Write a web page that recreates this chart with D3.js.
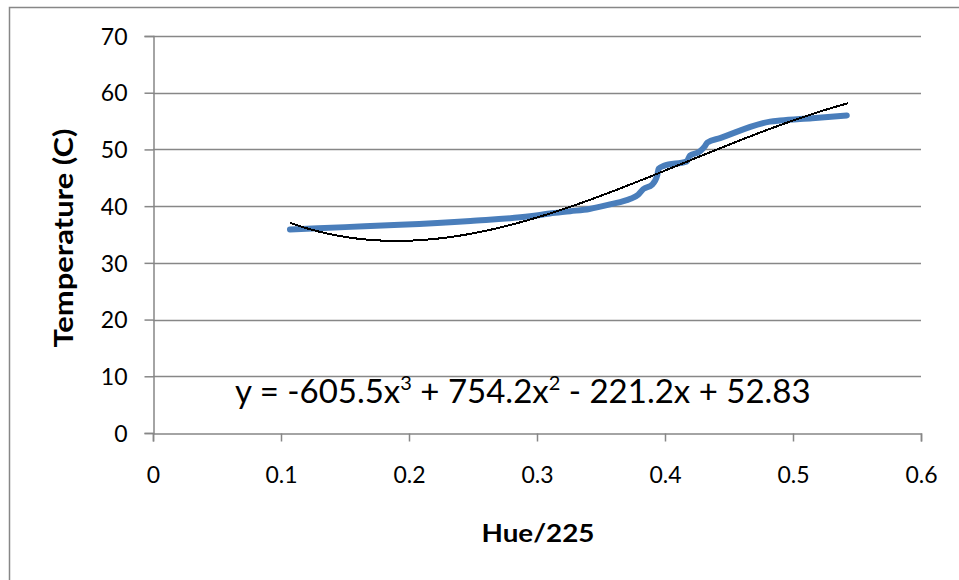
<!DOCTYPE html>
<html>
<head>
<meta charset="utf-8">
<script src="https://cdn.jsdelivr.net/npm/d3@7"></script>
<style>
  html, body { margin: 0; padding: 0; background: #fff; }
  svg { display: block; font-family: Lato, "Open Sans", sans-serif; }
</style>
</head>
<body>
<svg id="chart" width="959" height="580"></svg>
<script>
// Measured temperature against normalised hue
const hue  = [0.107, 0.150, 0.193, 0.248, 0.2945, 0.310, 0.326, 0.341, 0.357, 0.373, 0.379, 0.383, 0.390, 0.394, 0.395, 0.399, 0.417, 0.4195, 0.427, 0.431, 0.433, 0.443, 0.482, 0.490, 0.515, 0.542];
const temp = [35.9, 36.3, 36.7, 37.4, 38.2, 38.7, 39.1, 39.5, 40.3, 41.3, 42.0, 43.0, 43.8, 45.5, 46.6, 47.1, 47.9, 48.9, 49.6, 50.5, 51.2, 52.0, 54.9, 55.1, 55.5, 56.0];

// Cubic trendline coefficients (highest power first) as printed on the chart
const trendCoef = [-605.5, 754.2, -221.2, 52.83];
const trendRange = [0.107, 0.543];

const xTicks = [0, 0.1, 0.2, 0.3, 0.4, 0.5, 0.6];
const yTicks = [0, 10, 20, 30, 40, 50, 60, 70];

const svg = d3.select("#chart");
const plot = { left: 153, right: 921, top: 36, bottom: 433 };

const x = d3.scaleLinear().domain([0, 0.6]).range([plot.left, plot.right]);
const y = d3.scaleLinear().domain([0, 70]).range([plot.bottom, plot.top]);

const axisColor = "#878787";

// chart area frame
svg.append("rect")
  .attr("x", 9.5).attr("y", 7.5)
  .attr("width", 970).attr("height", 590)
  .attr("fill", "#fff")
  .attr("stroke", axisColor).attr("stroke-width", 1.5);

// horizontal gridlines
svg.append("g")
  .selectAll("line")
  .data(yTicks.filter(d => d > 0))
  .join("line")
  .attr("x1", plot.left).attr("x2", plot.right)
  .attr("y1", d => Math.round(y(d)) + 0.5).attr("y2", d => Math.round(y(d)) + 0.5)
  .attr("stroke", axisColor).attr("stroke-width", 1.5);

// y axis
const yAxis = svg.append("g")
  .attr("transform", `translate(${plot.left + 0.5},0)`)
  .call(d3.axisLeft(y).tickValues(yTicks).tickSize(9).tickPadding(17).tickFormat(d3.format("d")));
yAxis.select(".domain").attr("stroke", axisColor).attr("stroke-width", 1.5);
yAxis.selectAll(".tick line").attr("stroke", axisColor).attr("stroke-width", 1.5);
yAxis.selectAll(".tick text")
  .attr("font-family", "Lato, sans-serif").attr("font-size", 23).attr("fill", "#000")
  .attr("dy", "0.36em");

// x axis
const xAxis = svg.append("g")
  .attr("transform", `translate(0,${plot.bottom + 0.5})`)
  .call(d3.axisBottom(x).tickValues(xTicks).tickSize(8).tickPadding(25).tickFormat(d => d === 0 ? "0" : d3.format(".1f")(d)));
xAxis.select(".domain").attr("stroke", axisColor).attr("stroke-width", 1.5);
xAxis.selectAll(".tick line").attr("stroke", axisColor).attr("stroke-width", 1.5);
xAxis.selectAll(".tick text")
  .attr("font-family", "Lato, sans-serif").attr("font-size", 23).attr("fill", "#000");

// measured series
const line = d3.line().x((d, i) => x(hue[i])).y(d => y(d)).curve(d3.curveMonotoneX);
svg.append("path")
  .datum(temp)
  .attr("d", line)
  .attr("fill", "none")
  .attr("stroke", "#4a7ebb")
  .attr("stroke-width", 6)
  .attr("stroke-linecap", "round")
  .attr("stroke-linejoin", "round");

// polynomial trendline
const poly = v => trendCoef.reduce((acc, c) => acc * v + c, 0);
const trendX = d3.range(trendRange[0], trendRange[1] + 1e-9, 0.002);
svg.append("path")
  .datum(trendX)
  .attr("d", d3.line().x(d => x(d)).y(d => y(poly(d))))
  .attr("fill", "none")
  .attr("stroke", "#000")
  .attr("stroke-width", 2)
  .attr("shape-rendering", "crispEdges");

// trendline equation
const eq = svg.append("text")
  .attr("x", 235).attr("y", 403)
  .attr("font-family", "Lato, sans-serif")
  .attr("font-size", 33)
  .attr("fill", "#000");
eq.append("tspan").text("y = -605.5x");
eq.append("tspan").attr("font-size", 20).attr("dy", -13).text("3");
eq.append("tspan").attr("dy", 13).text(" + 754.2x");
eq.append("tspan").attr("font-size", 20).attr("dy", -13).text("2");
eq.append("tspan").attr("dy", 13).text(" - 221.2x + 52.83");

// axis titles
svg.append("text")
  .attr("x", 538).attr("y", 542)
  .attr("text-anchor", "middle")
  .attr("font-family", "Lato, sans-serif").attr("font-weight", "bold")
  .attr("font-size", 25).attr("fill", "#000")
  .attr("textLength", 113).attr("lengthAdjust", "spacingAndGlyphs")
  .text("Hue/225");

svg.append("text")
  .attr("transform", "translate(73,238) rotate(-90)")
  .attr("text-anchor", "middle")
  .attr("font-family", "Lato, sans-serif").attr("font-weight", "bold")
  .attr("font-size", 26).attr("fill", "#000")
  .attr("textLength", 219).attr("lengthAdjust", "spacingAndGlyphs")
  .text("Temperature (C)");
</script>
</body>
</html>
